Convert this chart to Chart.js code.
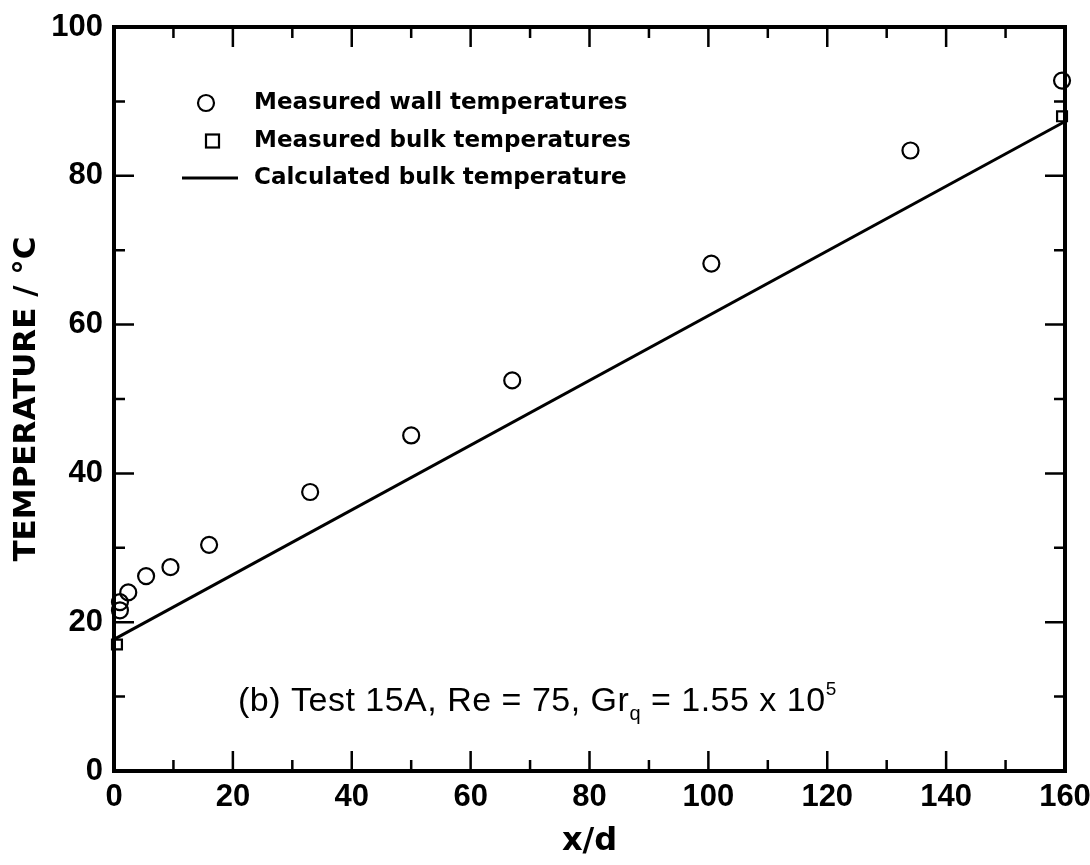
<!DOCTYPE html>
<html>
<head>
<meta charset="utf-8">
<script src="https://cdn.jsdelivr.net/npm/chart.js@4.4.1/dist/chart.umd.min.js"></script>
<style>
  html, body { margin: 0; padding: 0; background: #fff; }
  canvas { display: block; }
</style>
</head>
<body>
<canvas id="chart" width="1090" height="865"></canvas>
<script>
// values
const wallX = [1, 1, 2.4, 5.4, 9.5, 16, 33, 50, 67, 100.5, 134, 159.5];
const wallY = [21.6, 22.7, 24.0, 26.2, 27.4, 30.4, 37.5, 45.1, 52.5, 68.2, 83.4, 92.8];
const bulkX = [0.5, 159.5];
const bulkY = [17.0, 88.0];
const calcX = [0, 160];
const calcY = [17.7, 87.3];
const xTicks = [0, 20, 40, 60, 80, 100, 120, 140, 160];
const yTicks = [0, 20, 40, 60, 80, 100];
const seriesNames = ['Measured wall temperatures', 'Measured bulk temperatures', 'Calculated bulk temperature'];

const toPoints = (xs, ys) => xs.map((x, i) => ({ x, y: ys[i] }));

const tickFont = { family: 'Liberation Sans', weight: 'bold', size: 31 };

// inward tick marks on all four sides + heavy frame
const framePlugin = {
  id: 'frame',
  afterDatasetsDraw(chart) {
    const { ctx, chartArea: a, scales: { x, y } } = chart;
    ctx.save();
    ctx.strokeStyle = '#000';
    ctx.lineWidth = 2.5;
    ctx.beginPath();
    for (let v = x.min + 10; v < x.max; v += 10) {
      const px = x.getPixelForValue(v);
      const len = v % 20 === 0 ? 20 : 11;
      ctx.moveTo(px, a.bottom); ctx.lineTo(px, a.bottom - len);
      ctx.moveTo(px, a.top); ctx.lineTo(px, a.top + len);
    }
    for (let v = y.min + 10; v < y.max; v += 10) {
      const py = y.getPixelForValue(v);
      const len = v % 20 === 0 ? 20 : 11;
      ctx.moveTo(a.left, py); ctx.lineTo(a.left + len, py);
      ctx.moveTo(a.right, py); ctx.lineTo(a.right - len, py);
    }
    ctx.stroke();
    ctx.lineWidth = 4;
    ctx.strokeRect(a.left, a.top, a.right - a.left, a.bottom - a.top);
    ctx.restore();
  }
};

// legend box and the test caption
const notesPlugin = {
  id: 'notes',
  afterDraw(chart) {
    const ctx = chart.ctx;
    ctx.save();
    ctx.strokeStyle = '#000';
    ctx.fillStyle = '#000';
    ctx.lineWidth = 2.2;

    const rows = [103, 141, 178];
    ctx.beginPath();
    ctx.arc(206, rows[0], 8, 0, Math.PI * 2);
    ctx.stroke();
    ctx.strokeRect(206, rows[1] - 6.5, 13, 13);
    ctx.lineWidth = 3;
    ctx.beginPath();
    ctx.moveTo(182, rows[2]); ctx.lineTo(238, rows[2]);
    ctx.stroke();

    ctx.font = 'bold 23px "DejaVu Sans"';
    ctx.textBaseline = 'middle';
    seriesNames.forEach((s, i) => ctx.fillText(s, 254, rows[i]));

    // (b) Test 15A, Re = 75, Gr_q = 1.55 x 10^5
    const parts = [
      { t: '(b) Test 15A, Re = 75, Gr', f: '34px "Liberation Sans"', dy: 0 },
      { t: 'q', f: '20px "Liberation Sans"', dy: 9 },
      { t: ' = 1.55 x 10', f: '34px "Liberation Sans"', dy: 0 },
      { t: '5', f: '19px "Liberation Sans"', dy: -16 }
    ];
    ctx.textBaseline = 'alphabetic';
    ctx.letterSpacing = '0.5px';
    let px = 238;
    const base = 711;
    parts.forEach(p => {
      ctx.font = p.f;
      ctx.fillText(p.t, px, base + p.dy);
      px += ctx.measureText(p.t).width;
    });
    ctx.restore();
  }
};

new Chart(document.getElementById('chart'), {
  type: 'scatter',
  data: {
    datasets: [
      {
        label: seriesNames[0],
        data: toPoints(wallX, wallY),
        pointStyle: 'circle',
        pointRadius: 8,
        borderWidth: 2.2,
        borderColor: '#000',
        backgroundColor: 'rgba(0,0,0,0)',
        clip: false
      },
      {
        label: seriesNames[1],
        data: toPoints(bulkX, bulkY),
        pointStyle: 'rect',
        pointRadius: 7,
        borderWidth: 2.2,
        borderColor: '#000',
        backgroundColor: 'rgba(0,0,0,0)',
        clip: false
      },
      {
        label: seriesNames[2],
        data: toPoints(calcX, calcY),
        showLine: true,
        pointRadius: 0,
        borderWidth: 3,
        borderColor: '#000',
        clip: false
      }
    ]
  },
  options: {
    responsive: false,
    animation: false,
    devicePixelRatio: 1,
    layout: { padding: { top: 27, right: 25, left: 0, bottom: 0 } },
    plugins: { legend: { display: false }, tooltip: { enabled: false } },
    scales: {
      x: {
        type: 'linear',
        min: 0,
        max: 160,
        afterBuildTicks: s => { s.ticks = xTicks.map(v => ({ value: v })); },
        afterFit: s => { s.height = 94; s.paddingLeft = 0; s.paddingRight = 0; },
        grid: { display: false, drawTicks: false },
        border: { display: false },
        ticks: { font: tickFont, color: '#000', padding: 8, maxRotation: 0, autoSkip: false },
        title: {
          display: true,
          text: 'x/d',
          color: '#000',
          font: { family: 'DejaVu Sans', weight: 'bold', size: 32 },
          padding: { top: 0, bottom: 4 }
        }
      },
      y: {
        type: 'linear',
        min: 0,
        max: 100,
        afterBuildTicks: s => { s.ticks = yTicks.map(v => ({ value: v })); },
        afterFit: s => { s.width = 114; s.paddingTop = 0; s.paddingBottom = 0; },
        grid: { display: false, drawTicks: false },
        border: { display: false },
        ticks: { font: tickFont, color: '#000', padding: 11, autoSkip: false },
        title: {
          display: true,
          text: 'TEMPERATURE / °C',
          color: '#000',
          font: { family: 'DejaVu Sans', weight: 'bold', size: 31 },
          padding: { top: 8, bottom: 0 }
        }
      }
    }
  },
  plugins: [framePlugin, notesPlugin]
});
</script>
</body>
</html>
